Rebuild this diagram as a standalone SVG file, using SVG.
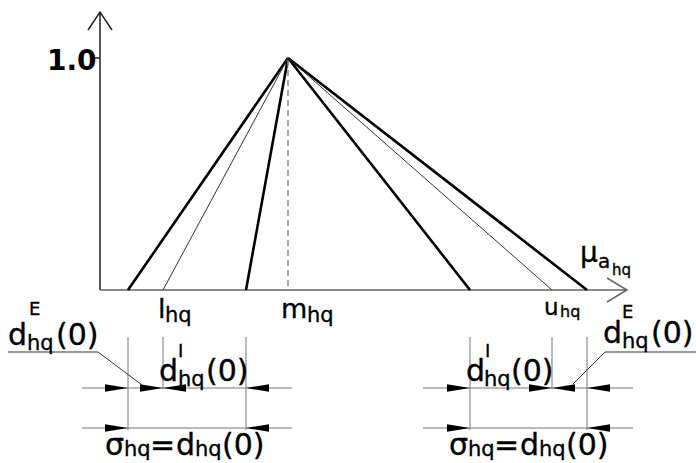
<svg xmlns="http://www.w3.org/2000/svg" xmlns:xlink="http://www.w3.org/1999/xlink" width="696" height="463" viewBox="0 0 696 463">
<style>
text{font-family:"DejaVu Sans","Liberation Sans",sans-serif;fill:#000;stroke:#000;stroke-width:0.35}
.m{font-size:30px}.s{font-size:21px}.sup{font-size:18px}
.axis{stroke:#222;stroke-width:1.5;fill:none}
.xaxis{stroke:#666;stroke-width:1.5;fill:none}
.thick{stroke:#000;stroke-width:2.6;fill:none}
.thin{stroke:#333;stroke-width:1;fill:none}
.dash{stroke:#888;stroke-width:1.5;stroke-dasharray:6,4;fill:none}
.dim{stroke:#777;stroke-width:1;fill:none}
.lead{stroke:#333;stroke-width:1;fill:none}
</style>
<defs>
<polygon id="arR" points="-23,-3.8 0,0 -23,3.8" fill="#000"/>
<polygon id="arL" points="23,-3.8 0,0 23,3.8" fill="#000"/>
</defs>
<rect width="696" height="463" fill="#fff"/>
<g id="axes">
<path class="axis" d="M100,290 V12 M88,30 L100,12 L112,30 M95,58 H100"/>
<path class="xaxis" d="M100,290 H627 M607,278 L627,290 L607,302"/>
</g>
<g id="curves">
<path class="thick" d="M128,290 L288,58 L246,290 M470,290 L288,58 L587,290"/>
<path class="thin" d="M163,290 L288,58 L552,290"/>
<path class="dash" d="M288,60 V290"/>
</g>
<g id="axis-labels">
<text x="47" y="70" style="font-size:28px;font-weight:bold;stroke-width:0">1.0</text>
<text><tspan x="158" y="318" style="font-size:27px">l</tspan><tspan x="165" y="322" class="s">hq</tspan></text>
<text><tspan x="281" y="318" style="font-size:27px">m</tspan><tspan x="307" y="322" class="s">hq</tspan></text>
<text><tspan x="544" y="315" style="font-size:23px">u</tspan><tspan x="560" y="317" style="font-size:16px">hq</tspan></text>
<text><tspan x="580" y="262" style="font-size:28px">μ</tspan><tspan x="598" y="268" style="font-size:20px">a</tspan><tspan x="612" y="275" style="font-size:15px">hq</tspan></text>
</g>
<g id="dimensions">
<path class="dim" d="M128,337 V430 M163,337 V389 M246,337 V430 M82,388 H292 M82,428 H292"/>
<path class="dim" d="M470,337 V430 M552,337 V389 M587,337 V430 M423,388 H633 M423,428 H633"/>
<path class="lead" d="M8,352 H98 L142,385"/>
<path class="lead" d="M696,352 H605 L573,384"/>
<use xlink:href="#arR" x="128" y="388"/>
<use xlink:href="#arR" x="163" y="388"/>
<use xlink:href="#arL" x="163" y="388"/>
<use xlink:href="#arL" x="246" y="388"/>
<use xlink:href="#arR" x="128" y="428"/>
<use xlink:href="#arL" x="246" y="428"/>
<use xlink:href="#arR" x="470" y="388"/>
<use xlink:href="#arR" x="552" y="388"/>
<use xlink:href="#arL" x="552" y="388"/>
<use xlink:href="#arL" x="587" y="388"/>
<use xlink:href="#arR" x="470" y="428"/>
<use xlink:href="#arL" x="587" y="428"/>
</g>
<g id="dim-labels">
<text><tspan x="8" y="345" class="m">d</tspan><tspan x="29" y="315" class="sup">E</tspan><tspan x="27" y="350" class="s">hq</tspan><tspan x="56" y="345" class="m">(0)</tspan></text>
<text><tspan x="159" y="381" class="m">d</tspan><tspan x="178" y="357" class="sup">I</tspan><tspan x="178" y="386" class="s">hq</tspan><tspan x="206" y="381" class="m">(0)</tspan></text>
<text><tspan x="105" y="455" class="m">σ</tspan><tspan x="124" y="456" class="s">hq</tspan><tspan x="150" y="455" class="m">=</tspan><tspan x="176" y="455" class="m">d</tspan><tspan x="195" y="456" class="s">hq</tspan><tspan x="222" y="455" class="m">(0)</tspan></text>
<text><tspan x="466" y="381" class="m">d</tspan><tspan x="485" y="357" class="sup">I</tspan><tspan x="484" y="386" class="s">hq</tspan><tspan x="511" y="381" class="m">(0)</tspan></text>
<text><tspan x="603" y="343" class="m">d</tspan><tspan x="622" y="318" class="sup">E</tspan><tspan x="622" y="348" class="s">hq</tspan><tspan x="651" y="343" class="m">(0)</tspan></text>
<text><tspan x="449" y="455" class="m">σ</tspan><tspan x="468" y="456" class="s">hq</tspan><tspan x="494" y="455" class="m">=</tspan><tspan x="520" y="455" class="m">d</tspan><tspan x="539" y="456" class="s">hq</tspan><tspan x="566" y="455" class="m">(0)</tspan></text>
</g>
</svg>
